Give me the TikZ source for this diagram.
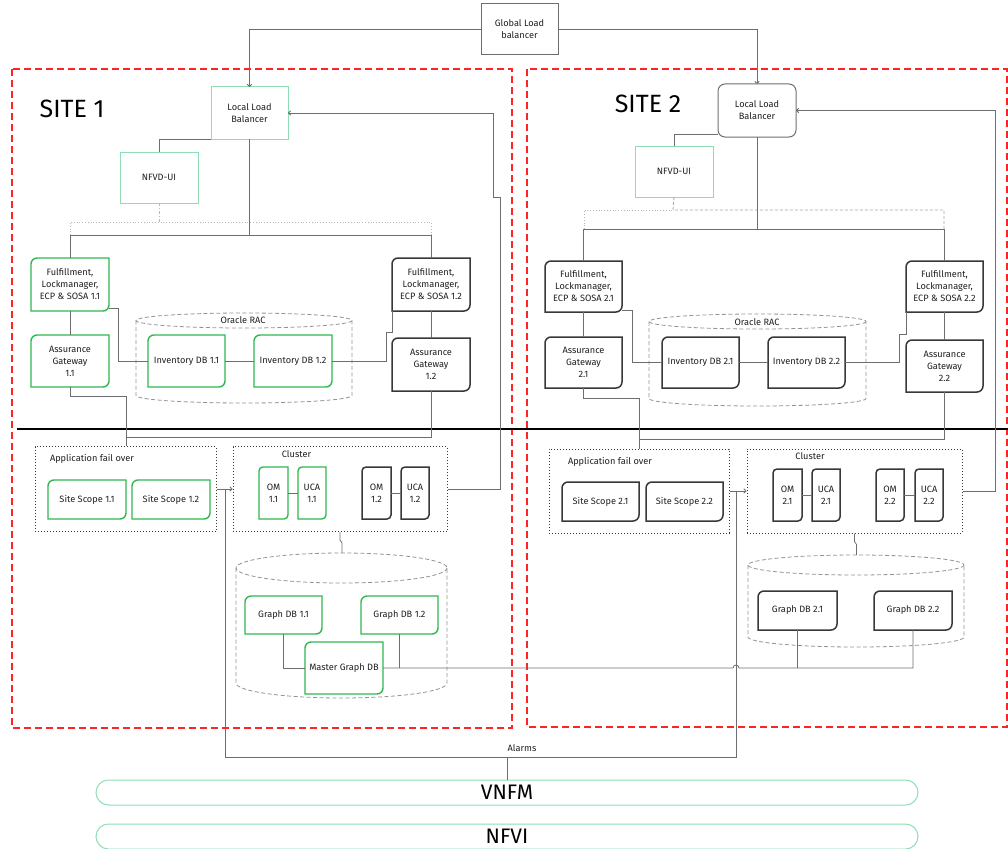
\documentclass[tikz,border=0pt]{standalone}
\usepackage{fontspec}
\setmainfont{Fira Sans}
\usetikzlibrary{arrows.meta,calc}

\definecolor{grn}{HTML}{2EB84F}
\definecolor{mint}{HTML}{8EDDB5}
\definecolor{dark}{HTML}{383838}
\definecolor{wire}{HTML}{6E6E6E}
\definecolor{sitered}{HTML}{FF2424}

% frame with rounded top-left and bottom-right corners, sharp elsewhere
\newcommand\diagframe[3][6]{%
  \draw[#3] ($(#2.north west)+(0,#1)$) -- (#2.south west) -- ($(#2.south east)+(-#1,0)$)
    .. controls ($(#2.south east)+(-0.45*#1,0)$) and ($(#2.south east)+(0,-0.45*#1)$) .. ($(#2.south east)+(0,-#1)$)
    -- (#2.north east) -- ($(#2.north west)+(#1,0)$)
    .. controls ($(#2.north west)+(0.45*#1,0)$) and ($(#2.north west)+(0,0.45*#1)$) .. cycle;}

% dashed database drum: x1, x2, top, bottom, radius of the ellipse
\newcommand\drum[5]{%
  \draw[drumline] ({(#1+#2)/2},{#3+#5}) ellipse [x radius={(#2-#1)/2}, y radius=#5];
  \draw[drumline] (#1,{#3+#5}) -- (#1,{#4-#5})
    arc[start angle=180, end angle=0, x radius={(#2-#1)/2}, y radius=#5] -- (#2,{#3+#5});}

\begin{document}
\begin{tikzpicture}[x=1pt, y=-1pt,
  lbl/.style={font=\fontsize{9.2}{12}\selectfont, align=center, inner sep=0pt, outer sep=0pt, text=black!88},
  plain/.style={lbl, draw=#1, line width=1pt},
  blank/.style={lbl},
  wire/.style={draw=wire, line width=0.8pt},
  tip/.style={-{To[length=3pt,width=5pt]}},
  grnline/.style={draw=grn, line width=1.4pt},
  darkline/.style={draw=dark, line width=1.5pt},
  drumline/.style={draw=gray!85, line width=0.8pt, dash pattern=on 4pt off 2.5pt},
  groupbox/.style={draw=dark, line width=1pt, dash pattern=on 1pt off 2pt},
  sitebox/.style={draw=sitered, line width=2pt, dash pattern=on 7pt off 4pt},
  band/.style={draw=mint, line width=1pt, rounded corners=12.5, minimum width=822, minimum height=25, inner sep=0pt, font=\fontsize{21}{24}\selectfont},
  sitelabel/.style={font=\fontsize{25}{30}\selectfont, inner sep=0pt}]

\useasboundingbox (0,0) rectangle (1008,848);

% ---------- sites ----------
\draw[sitebox] (12,69) rectangle (512,728);
\draw[sitebox] (527,69) rectangle (1007,727);
\node[sitelabel] (s1) at (72,109) {SITE 1};
\node[sitelabel] (s2) at (648,104) {SITE 2};

% ---------- load balancers ----------
\node[plain=wire, minimum width=77, minimum height=51] (glb) at (519.5,29.5) {Global Load\\balancer};
\node[plain=mint, minimum width=77, minimum height=52] (llb1) at (249.5,113) {Local Load\\Balancer};
\node[plain=wire, rounded corners=7, minimum width=78, minimum height=53] (llb2) at (757,110.5) {Local Load\\Balancer};
\node[plain=mint, minimum width=78, minimum height=51] (ui1) at (159,177.5) {NFVD-UI};
\node[plain=mint, minimum width=78, minimum height=51] (ui2) at (674,171.5) {NFVD-UI};

\draw[wire, tip] (glb.west) -| (llb1.north);
\draw[wire, tip] (glb.east) -| (llb2.north);
\draw[wire] (llb1.south west) -| (ui1.north);
\draw[wire] ($(llb2.west)+(0,23.5)$) -| (ui2.north);

% ---------- site 1 upper tier ----------
\node[blank, minimum width=78, minimum height=53] (ff11) at (70,284.5) {Fulfillment,\\Lockmanager,\\ECP \& SOSA 1.1};
\node[blank, minimum width=78, minimum height=52] (ag11) at (70,361) {Assurance\\Gateway\\1.1};
\node[blank, minimum width=77, minimum height=52] (inv11) at (186.5,361) {Inventory DB 1.1};
\node[blank, minimum width=78, minimum height=52] (inv12) at (293,361) {Inventory DB 1.2};
\node[blank, minimum width=78, minimum height=53] (ff12) at (431,284.5) {Fulfillment,\\Lockmanager,\\ECP \& SOSA 1.2};
\node[blank, minimum width=78, minimum height=53] (ag12) at (431,364.5) {Assurance\\Gateway\\1.2};
\drum{136}{352}{313}{403}{7.5}
\node[lbl] (rac1) at (243,320.5) {Oracle RAC};
\diagframe{ff11}{grnline}
\diagframe{ag11}{grnline}
\diagframe{inv11}{grnline}
\diagframe{inv12}{grnline}
\diagframe{ff12}{darkline}
\diagframe{ag12}{darkline}

\draw[draw=gray!55, line width=0.8pt, dotted] (70,235) -- (70,222) -- (431,222) -- (431,235);
\draw[draw=gray!55, line width=0.8pt, dash dot] (ui1.south) -- ++(0,19);
\draw[wire] (llb1.south) -- (249.5,235);
\draw[wire] (ff11.north) -- (70,235) -- (431,235) -- (ff12.north);
\draw[wire] (ff11.south) -- (ag11.north);
\draw[wire] (ff12.south) -- (ag12.north);
\draw[wire] ($(ff11.south east)+(0,-3)$) -- (118,308) -- (118,361) -- (inv11.west);
\draw[wire] (inv11.east) -- (inv12.west);
\draw[wire] (inv12.east) -- (386,361) -- (386,332) -- (392,332) -- (ff12.south west);

% ---------- site 2 upper tier ----------
\node[blank, minimum width=77, minimum height=51] (ff21) at (583.5,286.5) {Fulfillment,\\Lockmanager,\\ECP \& SOSA 2.1};
\node[blank, minimum width=77, minimum height=51] (ag21) at (583.5,362.5) {Assurance\\Gateway\\2.1};
\node[blank, minimum width=77, minimum height=51] (inv21) at (700.5,362.5) {Inventory DB 2.1};
\node[blank, minimum width=77, minimum height=51] (inv22) at (806.5,362.5) {Inventory DB 2.2};
\node[blank, minimum width=77, minimum height=51] (ff22) at (944.5,286.5) {Fulfillment,\\Lockmanager,\\ECP \& SOSA 2.2};
\node[blank, minimum width=77, minimum height=52] (ag22) at (944.5,366) {Assurance\\Gateway\\2.2};
\drum{649}{866}{314}{406}{7.5}
\node[lbl] (rac2) at (757,322) {Oracle RAC};
\diagframe{ff21}{darkline}
\diagframe{ag21}{darkline}
\diagframe{inv21}{darkline}
\diagframe{inv22}{darkline}
\diagframe{ff22}{darkline}
\diagframe{ag22}{darkline}

\draw[draw=gray!55, line width=0.8pt, dotted] (584,229) -- (584,210) -- (673,210);
\draw[draw=gray!70, line width=0.8pt, dash pattern=on 3pt off 2pt] (ui2.south) -- (673,210) -- (944,210) -- (944,229);
\draw[wire] (llb2.south) -- (757,229);
\draw[wire] (ff21.north) -- (583.5,229) -- (944.5,229) -- (ff22.north);
\draw[wire] (ff21.south) -- (ag21.north);
\draw[wire] (ff22.south) -- (ag22.north);
\draw[wire] ($(ff21.south east)+(0,-2)$) -- (632,310) -- (632,362.5) -- (inv21.west);
\draw[wire] (inv21.east) -- (inv22.west);
\draw[wire] (inv22.east) -- (899,362.5) -- (899,334) -- (906,334) -- (ff22.south west);

% ---------- divider ----------
\draw[line width=2pt] (17,429) -- (1008,429);

% ---------- site 1 lower tier ----------
\node[groupbox, minimum width=181, minimum height=85, inner sep=0pt] (afo1) at (125.5,489) {};
\node[lbl, anchor=west] (afo1t) at (50,459) {Application fail over};
\node[blank, minimum width=78, minimum height=39] (ss11) at (87,499.5) {Site Scope 1.1};
\node[blank, minimum width=78, minimum height=39] (ss12) at (171,499.5) {Site Scope 1.2};
\diagframe{ss11}{grnline}
\diagframe{ss12}{grnline}

\node[groupbox, minimum width=214, minimum height=85, inner sep=0pt] (cl1) at (340,489) {};
\node[lbl] (cl1t) at (296.5,454) {Cluster};
\node[blank, minimum width=29, minimum height=52] (om11) at (273.5,493) {OM\\1.1};
\node[blank, minimum width=28, minimum height=52] (uca11) at (312,493) {UCA\\1.1};
\node[blank, minimum width=29, minimum height=52] (om12) at (376.5,493) {OM\\1.2};
\node[blank, minimum width=28, minimum height=52] (uca12) at (415,493) {UCA\\1.2};
\diagframe[4]{om11}{grnline}
\diagframe[4]{uca11}{grnline}
\diagframe[4]{om12}{darkline}
\diagframe[4]{uca12}{darkline}
\draw[wire] (om11) -- (uca11);
\draw[wire] (om12) -- (uca12);

\draw[wire] (ag11.south) -- (70,396) -- (126,396) -- (afo1.north -| 126,0);
\draw[wire] (ag12.south) -- (431,437) -- (126,437);
\draw[wire, tip] (afo1.east) -- (cl1.west);
\draw[wire, tip] (cl1.east) -- (500,489) -- (500,197) -- (493,197) -- (493,113) -- (llb1.east);

\drum{236}{447}{553}{698}{15}
\draw[wire] (cl1.south) -- ++(0,8) -- ++(2,3) -- (342,553);
\node[blank, minimum width=77, minimum height=38] (gdb11) at (283.5,615) {Graph DB 1.1};
\node[blank, minimum width=77, minimum height=38] (gdb12) at (399.5,615) {Graph DB 1.2};
\node[blank, minimum width=78, minimum height=52] (master) at (344,668) {Master Graph DB};
\diagframe{gdb11}{grnline}
\diagframe{gdb12}{grnline}
\diagframe{master}{grnline}

% ---------- site 2 lower tier ----------
\node[groupbox, minimum width=180, minimum height=84, inner sep=0pt] (afo2) at (639,491) {};
\node[lbl, anchor=west] (afo2t) at (568,462) {Application fail over};
\node[blank, minimum width=77, minimum height=39] (ss21) at (600.5,501.5) {Site Scope 2.1};
\node[blank, minimum width=77, minimum height=39] (ss22) at (684.5,501.5) {Site Scope 2.2};
\diagframe{ss21}{darkline}
\diagframe{ss22}{darkline}

\node[groupbox, minimum width=215, minimum height=84, inner sep=0pt] (cl2) at (854.5,491) {};
\node[lbl] (cl2t) at (810,456) {Cluster};
\node[blank, minimum width=29, minimum height=52] (om21) at (787.5,495) {OM\\2.1};
\node[blank, minimum width=28, minimum height=52] (uca21) at (826,495) {UCA\\2.1};
\node[blank, minimum width=28, minimum height=52] (om22) at (890,495) {OM\\2.2};
\node[blank, minimum width=28, minimum height=52] (uca22) at (929,495) {UCA\\2.2};
\diagframe[4]{om21}{darkline}
\diagframe[4]{uca21}{darkline}
\diagframe[4]{om22}{darkline}
\diagframe[4]{uca22}{darkline}
\draw[wire] (om21) -- (uca21);
\draw[wire] (om22) -- (uca22);

\draw[wire] (ag21.south) -- (583.5,398) -- (639,398) -- (afo2.north);
\draw[wire] (ag22.south) -- (944.5,439) -- (639,439);
\draw[wire, tip] (afo2.east) -- (cl2.west);
\draw[wire, tip] (cl2.east) -- (995,491) -- (995,110.5) -- (llb2.east);

\drum{748}{964}{555}{647}{10}
\draw[wire] (cl2.south) -- ++(0,8) -- ++(2,3) -- (856.5,555);
\node[blank, minimum width=79, minimum height=39] (gdb21) at (797.5,610.5) {Graph DB 2.1};
\node[blank, minimum width=78, minimum height=39] (gdb22) at (913,610.5) {Graph DB 2.2};
\diagframe{gdb21}{darkline}
\diagframe{gdb22}{darkline}

% ---------- graph database links ----------
\draw[wire] (gdb11.south) |- (master.west);
\draw[wire] (gdb12.south) -- (399.5,668);
\draw[wire] (master.east) -- (733,668) arc[start angle=180, end angle=360, radius=3] -- (913,668) -- (gdb22.south);
\draw[wire] (gdb21.south) -- (797.5,668);

% ---------- alarms ----------
\coordinate (al1) at (225,489);
\coordinate (al2) at (736,491);
\draw[wire] (al1) -- (225,757) -- (736,757) -- (al2);
\node[lbl] (alarms) at (522,748) {Alarms};

% ---------- management bands ----------
\node[band] (vnfm) at (507,792.5) {VNFM};
\node[band] (nfvi) at (507,836.5) {NFVI};
\draw[wire] (vnfm.north) -- (507,757);
\end{tikzpicture}
\end{document}
